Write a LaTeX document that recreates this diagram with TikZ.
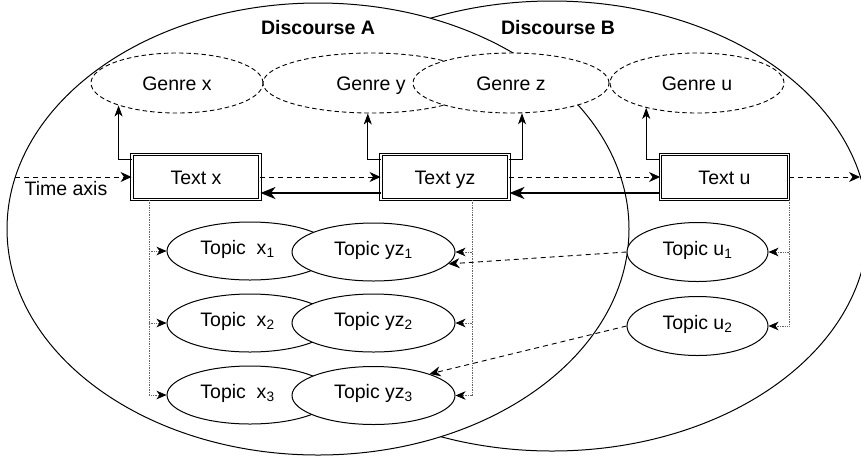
\documentclass[tikz,border=0pt]{standalone}
\usepackage{fontspec}
\setmainfont{Liberation Sans}
\usetikzlibrary{shapes.geometric,arrows.meta,calc}

\begin{document}
\begin{tikzpicture}[x=1pt,y=-1pt,
  every node/.style={font=\fontsize{19.5}{23}\selectfont, inner sep=0pt},
  disc/.style={ellipse, draw, line width=1pt, fill=white},
  disclabel/.style={font=\fontsize{19.5}{23}\selectfont\bfseries},
  genre/.style={ellipse, draw, dash pattern=on 4.5pt off 3pt, line width=0.9pt,
    fill=white, minimum height=60pt, text height=14pt, text depth=0pt},
  topic/.style={ellipse, draw, line width=1pt, fill=white, minimum height=58pt,
    text height=14pt, text depth=8pt},
  textbox/.style={draw, double, double distance=1.6pt, line width=0.9pt, fill=white,
    minimum width=128pt, minimum height=45pt, text height=14pt, text depth=0pt},
  dasharrow/.style={dash pattern=on 5pt off 4pt, line width=0.9pt,
    -{Stealth[length=11pt,width=10pt,inset=3.5pt]}},
  backarrow/.style={line width=2.3pt, -{Stealth[length=15pt,width=12pt,inset=4.5pt]}},
  uparrow/.style={line width=0.9pt, -{Stealth[length=11pt,width=8pt,inset=3pt]}},
  dotarrow/.style={densely dotted, line width=0.7pt, draw=black!60,
    -{Stealth[length=10pt,width=8.5pt,inset=3pt,color=black]}}
]
\useasboundingbox (0,0) rectangle (861,456);
\clip (0,0) rectangle (861,456);

% the two discourses; A lies over B
\node[disc, minimum width=632pt, minimum height=450pt] (dB) at (552,226) {};
\node[disc, minimum width=622pt, minimum height=452pt] (dA) at (318,229) {};
\node[disclabel] (labA) at (318,28) {Discourse A};
\node[disclabel] (labB) at (558,28) {Discourse B};

% genres
\node[genre, minimum width=172pt] (gx) at (177,83) {Genre x};
\node[genre, minimum width=216pt] (gy) at (371,83) {Genre y};
\node[genre, minimum width=196pt] (gz) at (511,83) {Genre z};
\node[genre, minimum width=174pt] (gu) at (697,83) {Genre u};

% texts on the time axis
\node[textbox] (tx) at (196,177) {Text x};
\node[textbox] (tyz) at (445,177) {Text yz};
\node[textbox] (tu) at (724.5,177) {Text u};
\node (taxis) at (66,188.5) {Time axis};

\coordinate (tstart) at (15,177);
\coordinate (tend) at (860,177);
\draw[dasharrow] (tstart) -- (tx);
\draw[dasharrow] (tx) -- (tyz);
\draw[dasharrow] (tyz) -- (tu);
\draw[dasharrow] (tu) -- (tend);

\draw[backarrow] ($(tyz.west)+(0,16)$) -- ($(tx.east)+(0,16)$);
\draw[backarrow] ($(tu.west)+(0,16)$) -- ($(tyz.east)+(0,16)$);

% texts realise genres
\draw[uparrow] ($(tx.north west)+(0,5)$) -| (gx.201.5);
\draw[uparrow] ($(tyz.north west)+(0,5)$) -| (gy.264.3);
\draw[uparrow] ($(tyz.north east)+(0,5)$) -| (gz.290.3);
\draw[uparrow] ($(tu.north west)+(0,5)$) -| (gu.206.8);

% topics
\node[topic, minimum width=166pt] (tx1) at (250,251) {};
\node[anchor=base] (ltx1) at ($(tx1)+(-12.5,3)$) {Topic\ \ x\textsubscript{1}};
\node[topic, minimum width=163pt] (tyz1) at (373.5,252) {Topic yz\textsubscript{1}};
\node[topic, minimum width=166pt] (tx2) at (250,323) {};
\node[anchor=base] (ltx2) at ($(tx2)+(-12.5,3)$) {Topic\ \ x\textsubscript{2}};
\node[topic, minimum width=163pt] (tyz2) at (373.5,323) {Topic yz\textsubscript{2}};
\node[topic, minimum width=166pt] (tx3) at (250,395) {};
\node[anchor=base] (ltx3) at ($(tx3)+(-12.5,3)$) {Topic\ \ x\textsubscript{3}};
\node[topic, minimum width=163pt] (tyz3) at (373.5,395.5) {Topic yz\textsubscript{3}};
\node[topic, minimum width=141pt, minimum height=59pt] (tu1) at (697.5,252) {Topic u\textsubscript{1}};
\node[topic, minimum width=141pt, minimum height=59pt] (tu2) at (697.5,326) {Topic u\textsubscript{2}};

% texts carry topics
\coordinate (vx) at (149,0);
\coordinate (vyz) at (472,0);
\draw[dotarrow] (tx.south -| vx) |- (tx3.west);
\draw[dotarrow] (vx |- tx1.west) -- (tx1.west);
\draw[dotarrow] (vx |- tx2.west) -- (tx2.west);
\draw[dotarrow] (tyz.south -| vyz) |- (tyz3.east);
\draw[dotarrow] (vyz |- tyz1.east) -- (tyz1.east);
\draw[dotarrow] (vyz |- tyz2.east) -- (tyz2.east);
\draw[dotarrow] (tu.south east) |- (tu2.east);
\draw[dotarrow] (tu.south east |- tu1.east) -- (tu1.east);

% topics taken up from discourse B
\draw[dasharrow] (tu1.west) -- (tyz1.-9);
\draw[dasharrow] (tu2.west) -- (tyz3.21);
\end{tikzpicture}
\end{document}
